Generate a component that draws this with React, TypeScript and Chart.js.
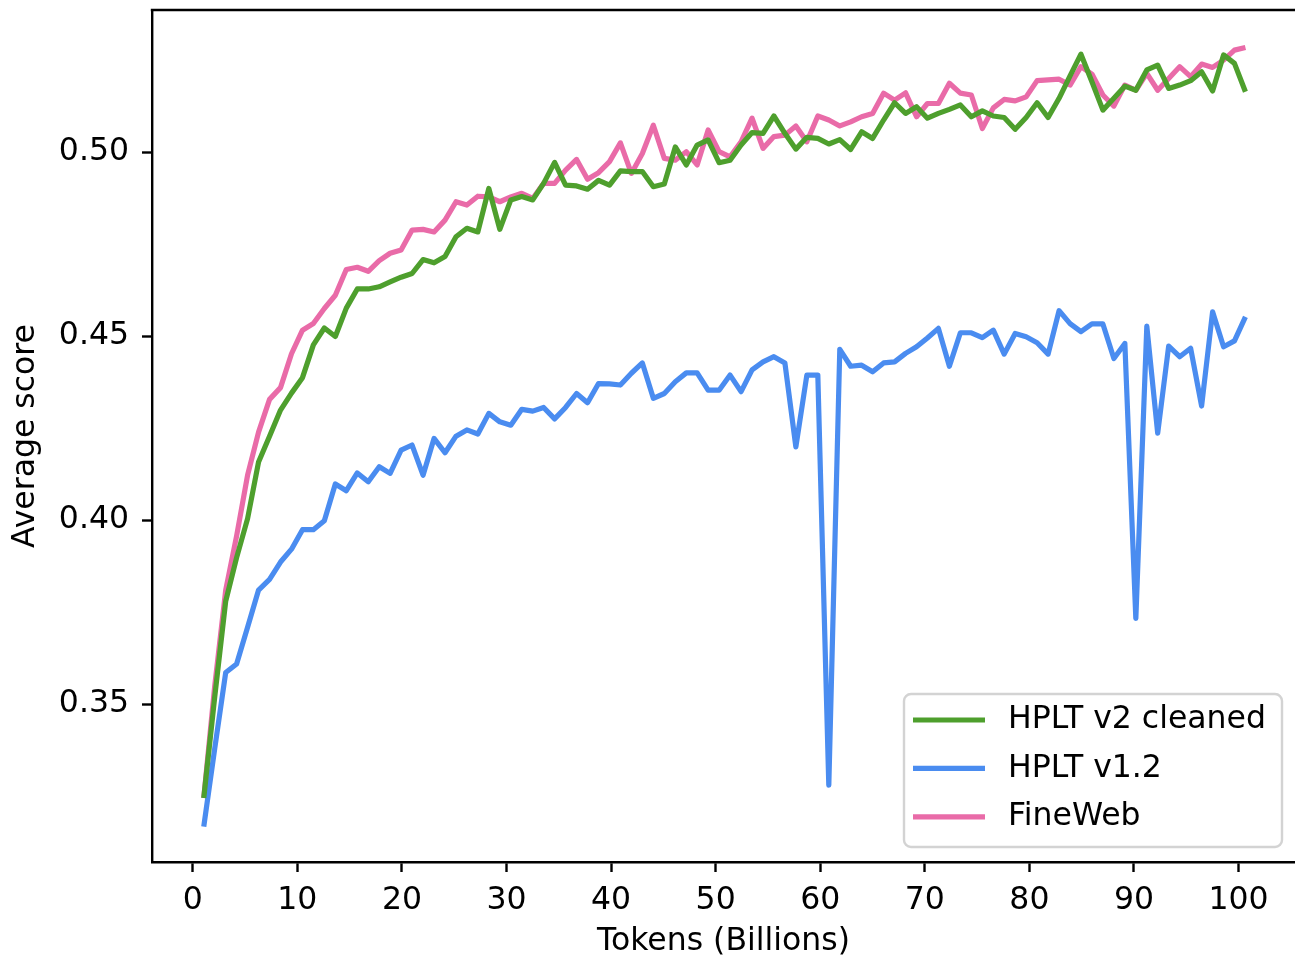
import React, { useEffect, useRef } from "react";
import { Chart, registerables } from "chart.js";

Chart.register(...registerables);

const tokensBillions = [
  1.05, 2.10, 3.15, 4.19, 5.24, 6.29, 7.34, 8.39, 9.44, 10.49,
  11.53, 12.58, 13.63, 14.68, 15.73, 16.78, 17.83, 18.87, 19.92, 20.97,
  22.02, 23.07, 24.12, 25.17, 26.21, 27.26, 28.31, 29.36, 30.41, 31.46,
  32.51, 33.55, 34.60, 35.65, 36.70, 37.75, 38.80, 39.85, 40.89, 41.94,
  42.99, 44.04, 45.09, 46.14, 47.19, 48.23, 49.28, 50.33, 51.38, 52.43,
  53.48, 54.53, 55.57, 56.62, 57.67, 58.72, 59.77, 60.82, 61.87, 62.91,
  63.96, 65.01, 66.06, 67.11, 68.16, 69.21, 70.25, 71.30, 72.35, 73.40,
  74.45, 75.50, 76.55, 77.59, 78.64, 79.69, 80.74, 81.79, 82.84, 83.89,
  84.93, 85.98, 87.03, 88.08, 89.13, 90.18, 91.23, 92.27, 93.32, 94.37,
  95.42, 96.47, 97.52, 98.57, 99.61, 100.66,
];

const hpltV2Cleaned = [
  0.3245, 0.3520, 0.3780, 0.3898, 0.4004, 0.4158, 0.4228, 0.4299, 0.4345, 0.4387,
  0.4476, 0.4522, 0.4499, 0.4576, 0.4628, 0.4628, 0.4634, 0.4647, 0.4660, 0.4670,
  0.4708, 0.4699, 0.4716, 0.4770, 0.4793, 0.4783, 0.4901, 0.4790, 0.4870, 0.4879,
  0.4870, 0.4915, 0.4972, 0.4910, 0.4908, 0.4899, 0.4923, 0.4910, 0.4949, 0.4947,
  0.4947, 0.4906, 0.4913, 0.5014, 0.4965, 0.5019, 0.5033, 0.4971, 0.4978, 0.5019,
  0.5053, 0.5051, 0.5098, 0.5051, 0.5008, 0.5040, 0.5037, 0.5022, 0.5034, 0.5007,
  0.5055, 0.5037, 0.5087, 0.5134, 0.5105, 0.5123, 0.5092, 0.5105, 0.5116, 0.5128,
  0.5096, 0.5112, 0.5098, 0.5094, 0.5062, 0.5094, 0.5134, 0.5094, 0.5146, 0.5207,
  0.5266, 0.5191, 0.5114, 0.5146, 0.5179, 0.5168, 0.5223, 0.5236, 0.5173, 0.5182,
  0.5194, 0.5218, 0.5166, 0.5264, 0.5241, 0.5164,
];

const hpltV12 = [
  0.3167, 0.3380, 0.3586, 0.3609, 0.3709, 0.3810, 0.3839, 0.3886, 0.3921, 0.3974,
  0.3974, 0.3998, 0.4098, 0.4080, 0.4128, 0.4104, 0.4145, 0.4127, 0.4190, 0.4204,
  0.4122, 0.4222, 0.4183, 0.4228, 0.4245, 0.4234, 0.4290, 0.4267, 0.4258, 0.4301,
  0.4296, 0.4306, 0.4275, 0.4306, 0.4344, 0.4319, 0.4371, 0.4370, 0.4367, 0.4399,
  0.4427, 0.4331, 0.4344, 0.4376, 0.4400, 0.4400, 0.4353, 0.4353, 0.4394, 0.4349,
  0.4408, 0.4430, 0.4444, 0.4427, 0.4199, 0.4394, 0.4394, 0.3280, 0.4464, 0.4418,
  0.4421, 0.4403, 0.4427, 0.4430, 0.4453, 0.4471, 0.4495, 0.4521, 0.4418, 0.4509,
  0.4509, 0.4496, 0.4516, 0.4451, 0.4507, 0.4498, 0.4482, 0.4451, 0.4569, 0.4534,
  0.4512, 0.4533, 0.4533, 0.4439, 0.4480, 0.3733, 0.4527, 0.4236, 0.4473, 0.4444,
  0.4467, 0.4310, 0.4566, 0.4471, 0.4487, 0.4552,
];

const fineWeb = [
  0.3245, 0.3550, 0.3810, 0.3957, 0.4122, 0.4239, 0.4328, 0.4360, 0.4452, 0.4516,
  0.4534, 0.4575, 0.4611, 0.4681, 0.4687, 0.4676, 0.4705, 0.4725, 0.4734, 0.4788,
  0.4790, 0.4783, 0.4815, 0.4865, 0.4856, 0.4880, 0.4878, 0.4865, 0.4878, 0.4888,
  0.4874, 0.4915, 0.4915, 0.4951, 0.4980, 0.4926, 0.4944, 0.4974, 0.5025, 0.4942,
  0.4996, 0.5073, 0.4983, 0.4978, 0.5001, 0.4965, 0.5060, 0.5001, 0.4987, 0.5028,
  0.5092, 0.5010, 0.5042, 0.5046, 0.5071, 0.5028, 0.5098, 0.5087, 0.5071, 0.5082,
  0.5096, 0.5105, 0.5160, 0.5141, 0.5161, 0.5096, 0.5132, 0.5132, 0.5187, 0.5160,
  0.5155, 0.5064, 0.5120, 0.5143, 0.5139, 0.5150, 0.5194, 0.5196, 0.5198, 0.5182,
  0.5232, 0.5212, 0.5155, 0.5125, 0.5182, 0.5168, 0.5214, 0.5168, 0.5200, 0.5232,
  0.5205, 0.5239, 0.5230, 0.5250, 0.5277, 0.5284,
];

const xTickValues = [0, 10, 20, 30, 40, 50, 60, 70, 80, 90, 100];
const yTickValues = [0.35, 0.4, 0.45, 0.5];
const seriesNames = ["HPLT v2 cleaned", "HPLT v1.2", "FineWeb"];
const seriesColors = ["#4e9f2d", "#4a8cf0", "#e96ba8"];

const FONT = "'DejaVu Sans', sans-serif";
const FONT_SIZE = 31.5;
const LINE_WIDTH = 5.2;

const topSpine = {
  id: "topSpine",
  afterDraw(chart: any) {
    const { ctx, chartArea } = chart;
    ctx.save();
    ctx.strokeStyle = "#000";
    ctx.lineWidth = 2.4;
    ctx.beginPath();
    ctx.moveTo(chartArea.left - 1.2, chartArea.top);
    ctx.lineTo(chartArea.right, chartArea.top);
    ctx.stroke();
    ctx.restore();
  },
};

const boxLegend = {
  id: "boxLegend",
  afterDraw(chart: any) {
    const ctx = chart.ctx;
    const x = 904, y = 694, w = 378, h = 153, r = 7;
    ctx.save();
    ctx.beginPath();
    ctx.moveTo(x + r, y);
    ctx.arcTo(x + w, y, x + w, y + h, r);
    ctx.arcTo(x + w, y + h, x, y + h, r);
    ctx.arcTo(x, y + h, x, y, r);
    ctx.arcTo(x, y, x + w, y, r);
    ctx.closePath();
    ctx.fillStyle = "rgba(255,255,255,0.8)";
    ctx.fill();
    ctx.strokeStyle = "#d3d3d3";
    ctx.lineWidth = 2.4;
    ctx.stroke();
    ctx.font = `${FONT_SIZE}px ${FONT}`;
    ctx.textBaseline = "middle";
    ctx.textAlign = "left";
    chart.data.datasets.forEach((ds: any, i: number) => {
      const cy = 720 + i * 48.4;
      ctx.strokeStyle = ds.borderColor;
      ctx.lineWidth = LINE_WIDTH;
      ctx.beginPath();
      ctx.moveTo(913, cy);
      ctx.lineTo(985, cy);
      ctx.stroke();
      ctx.fillStyle = "#000";
      ctx.fillText(ds.label, 1008, cy);
    });
    ctx.restore();
  },
};

export default function App() {
  const ref = useRef<HTMLCanvasElement>(null);

  useEffect(() => {
    const canvas = ref.current;
    if (!canvas) return;
    const seriesValues = [hpltV2Cleaned, hpltV12, fineWeb];
    const datasets = seriesValues.map((vals, i) => ({
      label: seriesNames[i],
      data: tokensBillions.map((t, j) => ({ x: t, y: vals[j] })),
      borderColor: seriesColors[i],
      backgroundColor: seriesColors[i],
      borderWidth: LINE_WIDTH,
      pointRadius: 0,
      tension: 0,
      fill: false,
      borderJoinStyle: "round" as const,
    }));

    const tickFont = { family: FONT, size: FONT_SIZE };

    const chart = new Chart(canvas, {
      type: "line",
      data: { datasets },
      options: {
        animation: false,
        responsive: false,
        maintainAspectRatio: false,
        events: [],
        layout: { padding: { top: 10, left: 0, right: 0, bottom: 0 } },
        plugins: { legend: { display: false }, tooltip: { enabled: false } },
        scales: {
          x: {
            type: "linear",
            min: -3.9,
            max: 105.4,
            afterBuildTicks: (s: any) => {
              s.ticks = xTickValues.map((v) => ({ value: v }));
            },
            afterFit: (s: any) => {
              s.height = 99;
              s.paddingLeft = 0;
              s.paddingRight = 0;
            },
            ticks: {
              autoSkip: false,
              maxRotation: 0,
              padding: 10,
              color: "#000",
              font: tickFont,
              callback: (v: any) => Number(v).toFixed(0),
            },
            grid: {
              display: true,
              drawOnChartArea: false,
              drawTicks: true,
              tickLength: 10,
              tickColor: "#000",
              tickWidth: 2.4,
            },
            border: { display: true, color: "#000", width: 2.4 },
            title: {
              display: true,
              text: "Tokens (Billions)",
              color: "#000",
              font: tickFont,
              padding: { top: 0, bottom: 0 },
            },
          },
          y: {
            type: "linear",
            min: 0.3071,
            max: 0.5386,
            afterBuildTicks: (s: any) => {
              s.ticks = yTickValues.map((v) => ({ value: v }));
            },
            afterFit: (s: any) => {
              s.width = 152;
              s.paddingTop = 0;
              s.paddingBottom = 0;
            },
            ticks: {
              autoSkip: false,
              padding: 13,
              color: "#000",
              font: tickFont,
              callback: (v: any) => Number(v).toFixed(2),
            },
            grid: {
              display: true,
              drawOnChartArea: false,
              drawTicks: true,
              tickLength: 10,
              tickColor: "#000",
              tickWidth: 2.4,
            },
            border: { display: true, color: "#000", width: 2.4 },
            title: {
              display: true,
              text: "Average score",
              color: "#000",
              font: tickFont,
              padding: { top: 7, bottom: 0 },
            },
          },
        },
      },
      plugins: [topSpine, boxLegend],
    } as any);

    return () => chart.destroy();
  }, []);

  return (
    <div
      style={{
        position: "absolute",
        left: 0,
        top: 0,
        width: 1295,
        height: 961,
        background: "#fff",
      }}
    >
      <canvas ref={ref} width={1295} height={961} style={{ display: "block" }} />
    </div>
  );
}
